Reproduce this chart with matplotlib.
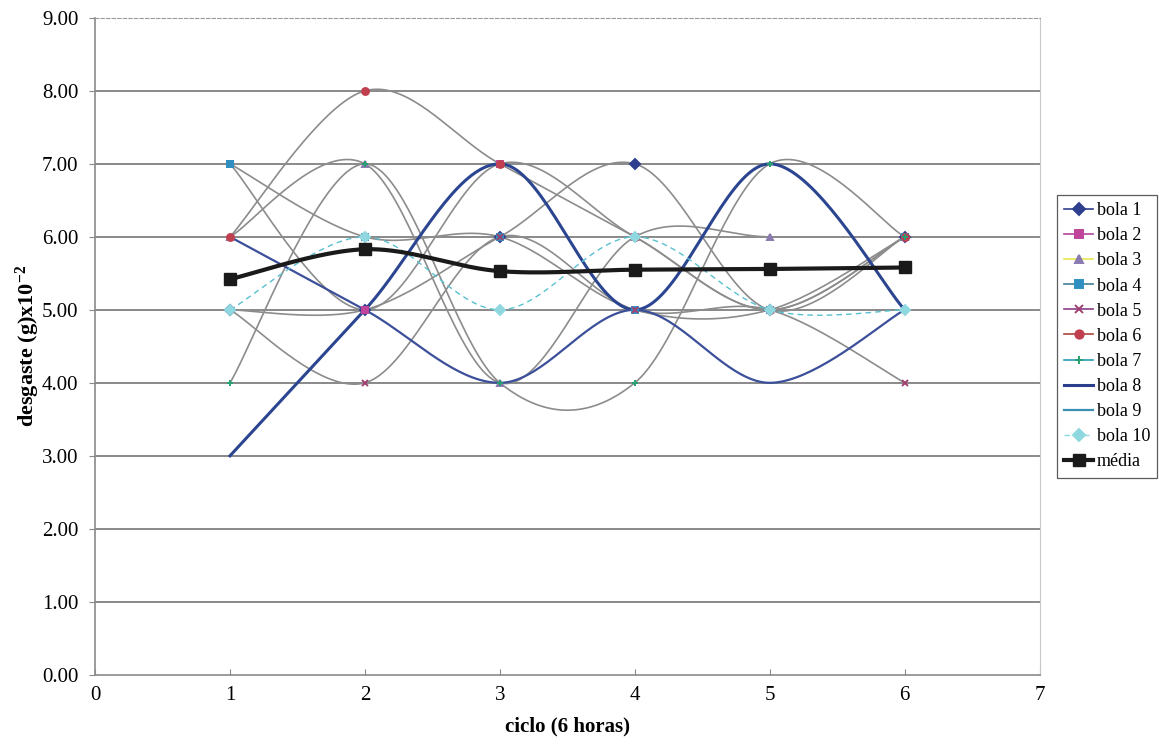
import numpy as np
import matplotlib
matplotlib.use("Agg")
import matplotlib.pyplot as plt
from matplotlib.lines import Line2D

# ---- data ----
ciclo = [1, 2, 3, 4, 5, 6]
bola_1 = [5, 5, 6, 7, 5, 6]
bola_2 = [7, 5, 7, 6, 5, 6]
bola_3 = [6, 7, 4, 6, 6, 6]
bola_4 = [7, 6, 6, 5, 5, 6]
bola_5 = [5, 4, 6, 5, 5, 4]
bola_6 = [6, 8, 7, 6, 5, 6]
bola_7 = [4, 7, 4, 4, 7, 6]
bola_8 = [3, 5, 7, 5, 7, 5]
bola_9 = [6, 5, 4, 5, 4, 5]
bola_10 = [5, 6, 5, 6, 5, 5]
media = [5.42, 5.83, 5.53, 5.55, 5.56, 5.58]

series_names = ["bola 1", "bola 2", "bola 3", "bola 4", "bola 5",
                "bola 6", "bola 7", "bola 8", "bola 9", "bola 10"]
series_vals = [bola_1, bola_2, bola_3, bola_4, bola_5,
               bola_6, bola_7, bola_8, bola_9, bola_10]
y_ticks = [0, 1, 2, 3, 4, 5, 6, 7, 8, 9]
x_ticks = [0, 1, 2, 3, 4, 5, 6, 7]

# (legend line colour, drawn line colour, marker, marker colour, linewidth, linestyle)
styles = [
    ("#2f3f8f", "#8c8c8c", "D", "#2f3f8f", 1.2, "-"),
    ("#b0449a", "#8c8c8c", "s", "#c0449a", 1.2, "-"),
    ("#e6e84a", "#8c8c8c", "^", "#8a7ab0", 1.2, "-"),
    ("#3e7f95", "#8c8c8c", "s", "#2f8fc0", 1.2, "-"),
    ("#8a3d8a", "#8c8c8c", "x", "#a04070", 1.2, "-"),
    ("#a8443c", "#8c8c8c", "o", "#c04050", 1.2, "-"),
    ("#2a9ab8", "#8c8c8c", "+", "#25a070", 1.2, "-"),
    ("#2b3f8c", "#2b4590", None, "#2b3f8c", 2.2, "-"),
    ("#3b8fb0", "#3b4f9a", None, "#3b8fb0", 1.6, "-"),
    ("#8fd8e0", "#58c0d0", "D", "#8fd8e0", 1.0, (0, (4, 3))),
]


def smooth(x, y, n=40):
    """Excel-like smoothed line (Catmull-Rom Bezier)."""
    x = np.asarray(x, float)
    y = np.asarray(y, float)
    px = np.concatenate([[x[0]], x, [x[-1]]])
    py = np.concatenate([[y[0]], y, [y[-1]]])
    xs, ys = [], []
    t = np.linspace(0, 1, n)
    for i in range(1, len(px) - 2):
        p0 = np.array([px[i], py[i]])
        p3 = np.array([px[i + 1], py[i + 1]])
        c1 = p0 + (np.array([px[i + 1], py[i + 1]]) - np.array([px[i - 1], py[i - 1]])) / 6
        c2 = p3 - (np.array([px[i + 2], py[i + 2]]) - np.array([px[i], py[i]])) / 6
        b = ((1 - t) ** 3)[:, None] * p0 + (3 * (1 - t) ** 2 * t)[:, None] * c1 \
            + (3 * (1 - t) * t ** 2)[:, None] * c2 + (t ** 3)[:, None] * p3
        xs.append(b[:, 0])
        ys.append(b[:, 1])
    return np.concatenate(xs), np.concatenate(ys)


plt.rcParams['font.family'] = ['Liberation Serif', 'DejaVu Serif']
plt.rcParams['mathtext.fontset'] = 'custom'
plt.rcParams['mathtext.rm'] = 'Liberation Serif'
plt.rcParams['mathtext.bf'] = 'Liberation Serif:bold'
plt.rcParams['mathtext.default'] = 'bf'

fig = plt.figure(figsize=(11.59, 7.44), dpi=100)
ax = fig.add_axes([0.082, 0.093, 0.815, 0.883])

for yv in y_ticks[1:-1]:
    ax.axhline(yv, color="#6a6a6a", lw=1.1, zorder=1)

handles = []
for name, vals, st in zip(series_names, series_vals, styles):
    leg_c, line_c, mk, mk_c, lw, ls = st
    sx, sy = smooth(ciclo, vals)
    ax.plot(sx, sy, color=line_c, lw=lw, ls=ls, zorder=2)
    if mk is not None:
        ax.plot(ciclo, vals, ls="none", marker=mk, ms=5, color=mk_c,
                mec=mk_c, mew=1.4, zorder=3)
    handles.append(Line2D([0], [0], color=leg_c, lw=lw, ls=ls, marker=mk,
                          ms=6, mfc=mk_c, mec=mk_c, mew=1.4))

sx, sy = smooth(ciclo, media)
ax.plot(sx, sy, color="#1a1a1a", lw=3, zorder=4)
ax.plot(ciclo, media, ls="none", marker="s", ms=8, color="#1a1a1a", zorder=5)
handles.append(Line2D([0], [0], color="#1a1a1a", lw=3, marker="s", ms=8))

ax.set_xlim(0, 7)
ax.set_ylim(0, 9)
ax.set_xticks(x_ticks)
ax.set_yticks(y_ticks)
ax.set_yticklabels([f"{v:.2f}" for v in y_ticks])
ax.tick_params(axis="both", labelsize=15, length=4, color="#8a8a8a", direction="out")
ax.tick_params(axis="y", pad=8)
ax.tick_params(axis="x", pad=8, direction="in")

for s in ["left", "bottom"]:
    ax.spines[s].set_color("#8a8a8a")
    ax.spines[s].set_linewidth(1.2)
ax.spines["right"].set_color("#c8c8c8")
ax.spines["top"].set_color("#9a9a9a")
ax.spines["top"].set_linestyle((0, (3, 2)))
ax.spines["top"].set_linewidth(0.8)

ax.set_xlabel("ciclo (6 horas)", fontsize=15, fontweight="bold", labelpad=8)
ax.set_ylabel("desgaste (g)x10$^{-2}$", fontsize=16, fontweight="bold", labelpad=0)

leg = fig.legend(handles, series_names + ["média"], loc="upper left",
                 bbox_to_anchor=(0.912, 0.738), fontsize=13, frameon=True,
                 fancybox=False, edgecolor="#333333", handlelength=1.6,
                 handletextpad=0.2, borderpad=0.4, labelspacing=0.45,
                 borderaxespad=0)
leg.get_frame().set_linewidth(0.9)

fig.savefig("out.png", dpi=100, facecolor="white")
